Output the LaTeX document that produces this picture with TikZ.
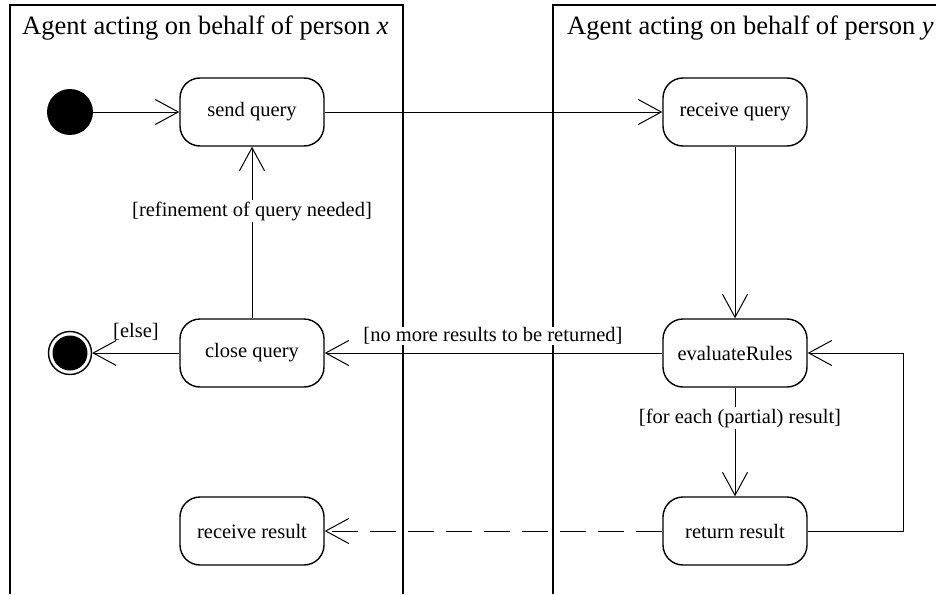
\documentclass[tikz,border=0pt]{standalone}
\usepackage{fontspec}
\setmainfont{Liberation Serif}
\usetikzlibrary{arrows.meta}
\begin{document}
\begin{tikzpicture}[x=1pt,y=-1pt,
  action/.style={draw,line width=1.4pt,rounded corners=20pt,minimum width=144pt,
    minimum height=68pt,inner sep=0pt,font=\fontsize{20.5}{24}\selectfont},
  flow/.style={line width=1pt,-{Straight Barb[length=23pt,width=25pt,line width=1pt]}},
  guard/.style={fill=white,inner sep=2pt,font=\fontsize{20.5}{24}\selectfont},
  lane/.style={line width=1.4pt},
  lanetitle/.style={anchor=base west,inner sep=0pt,font=\fontsize{26.5}{30}\selectfont}]
\useasboundingbox (0,0) rectangle (936,594);

% swimlanes
\draw[lane] (10,594) -- (10,5) -- (403,5) -- (403,594);
\draw[lane] (553,594) -- (553,5) -- (936,5);
\node[lanetitle] (titlex) at (22,35) {Agent acting on behalf of person \textit{x}};
\node[lanetitle] (titley) at (567,35) {Agent acting on behalf of person \textit{y}};

% states
\node[circle,fill=black,minimum size=46pt,inner sep=0pt] (start) at (70,112) {};
\node[circle,draw,line width=1.4pt,minimum size=43pt,inner sep=0pt] (stop) at (70,353) {};
\fill (stop.center) circle (17.5pt);

\node[action] (send) at (252,112) {send query};
\node[action] (close) at (252,353) {close query};
\node[action] (recres) at (252,531) {receive result};
\node[action] (recq) at (735,112) {receive query};
\node[action] (eval) at (735,353) {evaluateRules};
\node[action] (ret) at (735,531) {return result};

% transitions
\draw[flow] (start) -- (send);
\draw[flow] (send) -- (recq);
\draw[flow] (recq) -- (eval);
\draw[flow] (close) -- (send);
\node[guard] (g1) at (252,211) {[refinement of query needed]};
\draw[flow] (eval) -- (close);
\node[guard,inner sep=1pt] (g2) at (493,336) {[no more results to be returned]};
\draw[flow] (close) -- (stop);
\node[inner sep=0pt,font=\fontsize{20.5}{24}\selectfont] (g3) at (136,332) {[else]};
\draw[flow] (eval) -- (ret);
\node[guard] (g4) at (740,418) {[for each (partial) result]};
\draw[flow] (ret.east) -- (903,531) -- (903,353) -- (eval.east);
\draw[flow,dash pattern=on 26pt off 12pt] (ret) -- (recres);
\end{tikzpicture}
\end{document}
